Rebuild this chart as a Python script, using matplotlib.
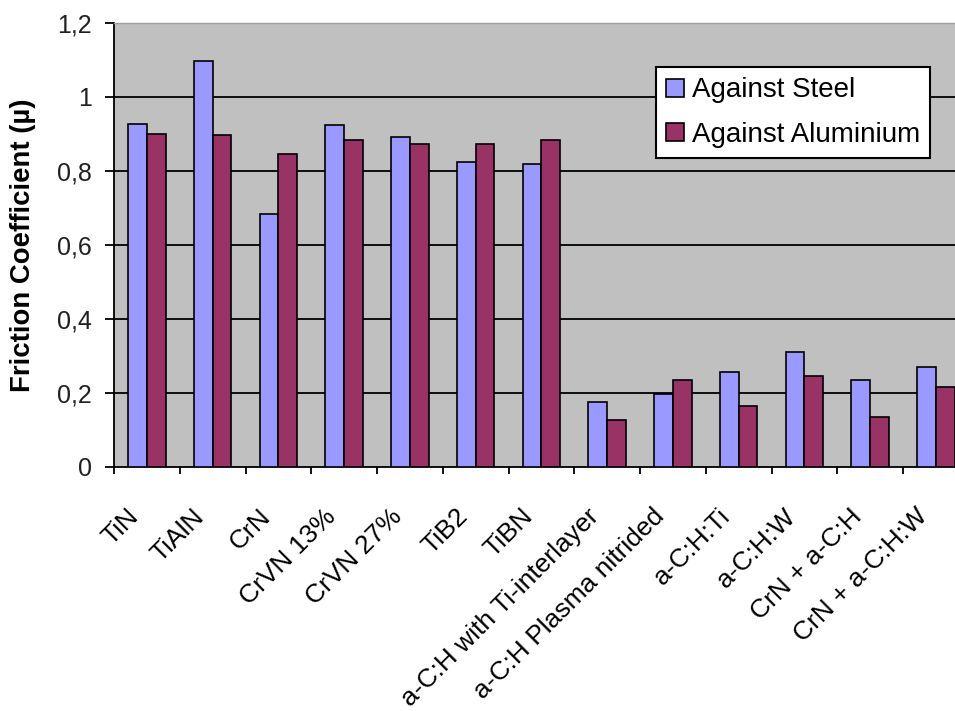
import matplotlib

matplotlib.use("Agg")
import matplotlib.pyplot as plt
import numpy as np
from matplotlib.transforms import ScaledTranslation

plt.rcParams["font.family"] = ["Liberation Sans", "DejaVu Sans"]

coatings = [
    "TiN", "TiAlN", "CrN", "CrVN 13%", "CrVN 27%", "TiB2", "TiBN",
    "a-C:H with Ti-interlayer", "a-C:H Plasma nitrided", "a-C:H:Ti",
    "a-C:H:W", "CrN + a-C:H", "CrN + a-C:H:W",
]
against_steel = [0.928, 1.096, 0.685, 0.923, 0.891, 0.824, 0.820,
                 0.177, 0.197, 0.258, 0.312, 0.236, 0.269]
against_aluminium = [0.901, 0.896, 0.847, 0.885, 0.874, 0.874, 0.885,
                     0.128, 0.236, 0.166, 0.247, 0.134, 0.215]
y_ticks = [0, 0.2, 0.4, 0.6, 0.8, 1.0, 1.2]
y_tick_labels = ["0", "0,2", "0,4", "0,6", "0,8", "1", "1,2"]

W, H, DPI = 955, 711, 100
fig = plt.figure(figsize=(W / DPI, H / DPI), dpi=DPI, facecolor="white")

# plot area in pixels: left edge 114, zero line at 467, top at 23, 65.75 px per category
left, zero, top, step = 114, 467, 23, 65.75
ax = fig.add_axes([left / W, (H - zero) / H, 13 * step / W, (zero - top) / H])
ax.set_facecolor("#C0C0C0")

x = np.arange(len(coatings)) + 0.5
bw = 1 / 3.5
steel = ax.bar(x - bw / 2, against_steel, bw, color="#9999FF", edgecolor="black",
               linewidth=1.2, label="Against Steel", zorder=3)
alu = ax.bar(x + bw / 2, against_aluminium, bw, color="#993366", edgecolor="black",
             linewidth=1.2, label="Against Aluminium", zorder=3)

ax.set_xlim(0, len(coatings))
ax.set_ylim(0, 1.2)
ax.set_yticks(y_ticks, y_tick_labels)
for yv in y_ticks[1:-1]:
    ax.axhline(yv, color="black", linewidth=1.3, zorder=1)

for side in ("top", "right"):
    ax.spines[side].set_color("#A0A0A0")
    ax.spines[side].set_linewidth(1.0)
ax.spines["left"].set_linewidth(1.3)
ax.spines["bottom"].set_linewidth(1.3)

ax.tick_params(axis="y", direction="out", length=6.5, width=1.3, pad=9.5,
               labelsize=18, labelcolor="#202020")
ax.set_xticks(np.arange(len(coatings) + 1))
ax.tick_params(axis="x", which="major", direction="out", length=5, width=1.3,
               labelbottom=False)
ax.set_xticks(x, coatings, minor=True)
ax.tick_params(axis="x", which="minor", length=0, pad=33, labelsize=19)
shift = ScaledTranslation(-12 / DPI, 0, fig.dpi_scale_trans)
for lab in ax.get_xticklabels(minor=True):
    lab.set_rotation(45)
    lab.set_ha("right")
    lab.set_va("center")
    lab.set_rotation_mode("anchor")
    lab.set_transform(lab.get_transform() + shift)

ax.set_ylabel("Friction Coefficient (\u00b5)", fontsize=19.8, fontweight="bold")
ax.yaxis.set_label_coords(-0.091, 0.5)

leg = ax.legend(handles=[steel, alu], loc="upper left",
                bbox_to_anchor=(656 / W, 1 - 67 / H), bbox_transform=fig.transFigure,
                fontsize=20, frameon=True, fancybox=False, framealpha=1,
                edgecolor="black", borderaxespad=0, borderpad=0.37,
                handlelength=0.62, handleheight=0.62, handletextpad=0.3,
                labelspacing=0.68)
leg.get_frame().set_linewidth(1.5)
leg.set_zorder(5)

fig.savefig("out.png", dpi=DPI, facecolor=fig.get_facecolor())
